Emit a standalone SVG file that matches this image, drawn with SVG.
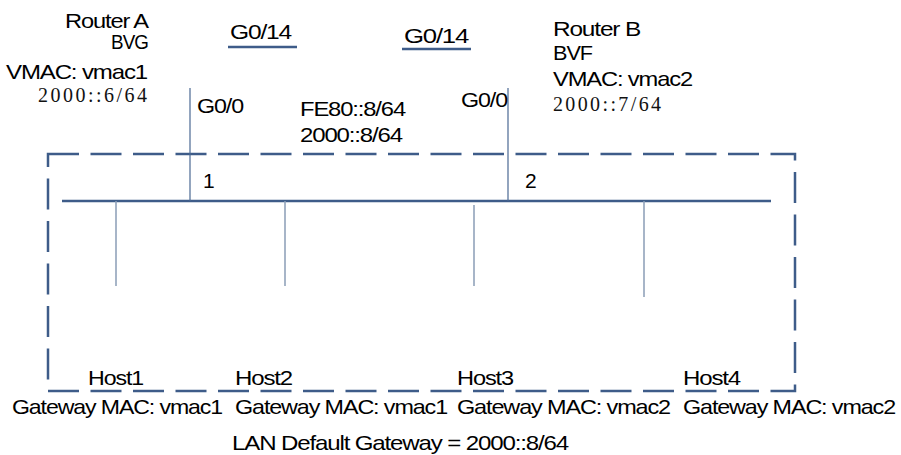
<svg xmlns="http://www.w3.org/2000/svg" width="901" height="455" viewBox="0 0 901 455">
<style>
.t{font-family:"Liberation Sans",Arial,sans-serif;font-size:21px;fill:#000;letter-spacing:-1px}
.s{font-family:"Liberation Serif","Times New Roman",serif;font-size:20px;fill:#111}
.thick{stroke:#3E5C89;stroke-width:2.5;fill:none}
.thin{stroke:#4A6893;stroke-width:1.2;fill:none}
.drop{stroke:#8A9CB6;stroke-width:1.5;fill:none}
</style>
<rect width="901" height="455" fill="#fff"/>
<g id="connectors">
<path id="lan-box" class="thick" d="M48,154 H795 V391 H48 Z" stroke-dasharray="31 11.5"/>
<line id="bus" class="thick" x1="62" y1="201" x2="771" y2="201"/>
<line class="thick" x1="228" y1="47" x2="297" y2="47"/>
<line class="thick" x1="402" y1="49" x2="471" y2="49"/>
<line class="thin" x1="190" y1="88" x2="190" y2="201"/>
<line class="thin" x1="508" y1="88" x2="508" y2="201"/>
<line class="drop" x1="116" y1="201" x2="116" y2="286"/>
<line class="drop" x1="285" y1="201" x2="285" y2="286"/>
<line class="drop" x1="474" y1="205" x2="474" y2="286"/>
<line class="drop" x1="644" y1="201" x2="644" y2="297"/>
</g>
<g id="routerA">
<text class="t" x="65" y="28" textLength="83" lengthAdjust="spacingAndGlyphs">Router A</text>
<text class="t" x="111" y="49" textLength="37" lengthAdjust="spacingAndGlyphs">BVG</text>
<text class="t" x="6" y="79" textLength="141" lengthAdjust="spacingAndGlyphs">VMAC: vmac1</text>
<text class="s" x="38" y="102" textLength="109" lengthAdjust="spacing">2000::6/64</text>
<text class="t" x="230" y="39" textLength="61" lengthAdjust="spacingAndGlyphs">G0/14</text>
<text class="t" x="197" y="113" textLength="46" lengthAdjust="spacingAndGlyphs">G0/0</text>
<text class="t" x="203" y="188" style="letter-spacing:0">1</text>
</g>
<g id="vip">
<text class="t" x="300" y="116" textLength="105" lengthAdjust="spacingAndGlyphs">FE80::8/64</text>
<text class="t" x="300" y="142" textLength="102" lengthAdjust="spacingAndGlyphs">2000::8/64</text>
</g>
<g id="routerB">
<text class="t" x="553" y="36" textLength="87" lengthAdjust="spacingAndGlyphs">Router B</text>
<text class="t" x="553" y="60" textLength="39" lengthAdjust="spacingAndGlyphs">BVF</text>
<text class="t" x="553" y="86" textLength="139" lengthAdjust="spacingAndGlyphs">VMAC: vmac2</text>
<text class="s" x="553" y="111" textLength="108" lengthAdjust="spacing">2000::7/64</text>
<text class="t" x="404" y="43" textLength="64" lengthAdjust="spacingAndGlyphs">G0/14</text>
<text class="t" x="461" y="107" textLength="46" lengthAdjust="spacingAndGlyphs">G0/0</text>
<text class="t" x="525" y="188" style="letter-spacing:0">2</text>
</g>
<g id="host1">
<text class="t" x="88" y="385" textLength="55" lengthAdjust="spacingAndGlyphs">Host1</text>
<text class="t" x="12" y="414" textLength="210" lengthAdjust="spacingAndGlyphs">Gateway MAC: vmac1</text>
</g>
<g id="host2">
<text class="t" x="235" y="385" textLength="57" lengthAdjust="spacingAndGlyphs">Host2</text>
<text class="t" x="235" y="414" textLength="212" lengthAdjust="spacingAndGlyphs">Gateway MAC: vmac1</text>
</g>
<g id="host3">
<text class="t" x="457" y="385" textLength="56" lengthAdjust="spacingAndGlyphs">Host3</text>
<text class="t" x="457" y="414" textLength="213" lengthAdjust="spacingAndGlyphs">Gateway MAC: vmac2</text>
</g>
<g id="host4">
<text class="t" x="683" y="385" textLength="57" lengthAdjust="spacingAndGlyphs">Host4</text>
<text class="t" x="683" y="414" textLength="212" lengthAdjust="spacingAndGlyphs">Gateway MAC: vmac2</text>
</g>
<g id="lan-gateway">
<text class="t" x="232" y="450" textLength="336" lengthAdjust="spacingAndGlyphs">LAN Default Gateway = 2000::8/64</text>
</g>
</svg>
